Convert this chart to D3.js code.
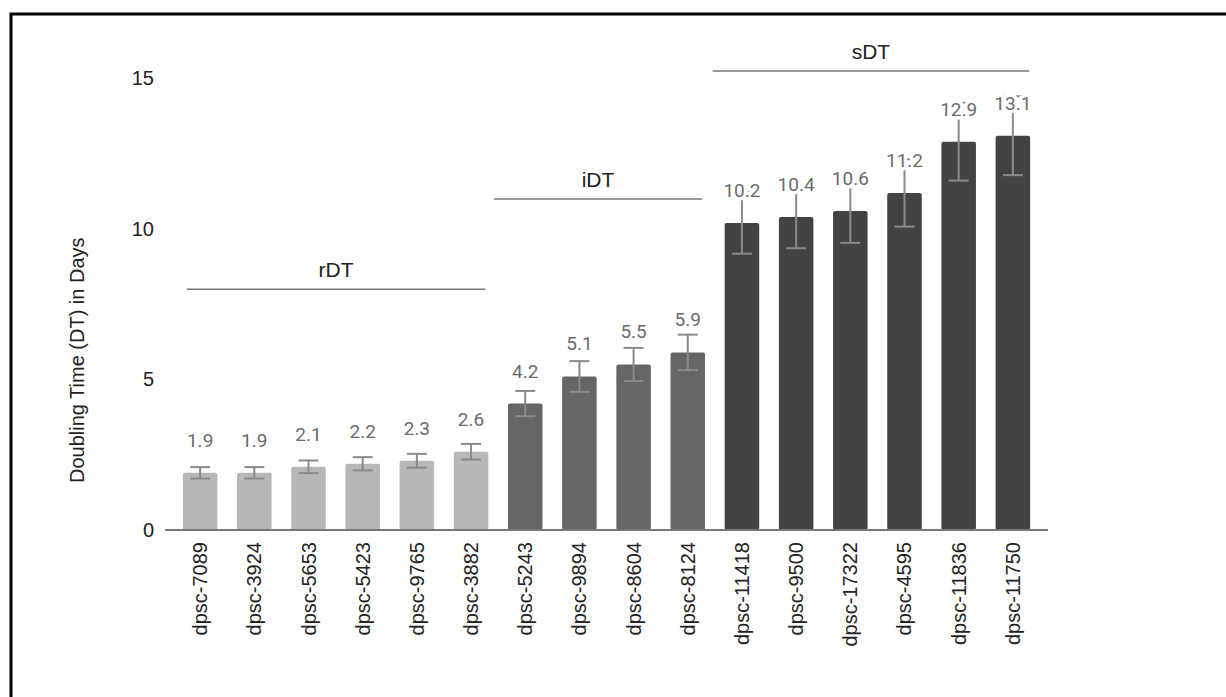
<!DOCTYPE html>
<html>
<head>
<meta charset="utf-8">
<script src="https://cdn.jsdelivr.net/npm/d3@7"></script>
<style>
  html, body { margin: 0; padding: 0; background: #fff; }
  svg { display: block; }
</style>
</head>
<body>
<svg id="chart" width="1226" height="697"></svg>
<script>
// ---- data ----
const categories = ["dpsc-7089","dpsc-3924","dpsc-5653","dpsc-5423","dpsc-9765","dpsc-3882",
  "dpsc-5243","dpsc-9894","dpsc-8604","dpsc-8124",
  "dpsc-11418","dpsc-9500","dpsc-17322","dpsc-4595","dpsc-11836","dpsc-11750"];
const values = [1.9,1.9,2.1,2.2,2.3,2.6,4.2,5.1,5.5,5.9,10.2,10.4,10.6,11.2,12.9,13.1];
const errors = [0.19,0.19,0.21,0.22,0.23,0.26,0.42,0.51,0.55,0.59,1.02,1.04,1.06,1.12,1.29,1.31];
const groupOf = ["rDT","rDT","rDT","rDT","rDT","rDT","iDT","iDT","iDT","iDT","sDT","sDT","sDT","sDT","sDT","sDT"];
const groupNames = ["rDT","iDT","sDT"];
const groupFirst = ["dpsc-7089","dpsc-5243","dpsc-11418"];
const groupLast = ["dpsc-3882","dpsc-8124","dpsc-11750"];
const groupLevel = [8, 11, 15.25];
const yTicks = [0,5,10,15];
const yTitle = "Doubling Time (DT) in Days";

// ---- layout / style (not data) ----
const groupColor = {rDT: "#b7b7b7", iDT: "#666666", sDT: "#434343"};
const lineStartShift = [4, -14, -12];
const lineEndShift = [-3, -3, -1];

const svg = d3.select("#chart");

// frame
svg.append("rect").attr("x", 11).attr("y", 14).attr("width", 1240).attr("height", 720)
  .attr("fill", "none").attr("stroke", "#000").attr("stroke-width", 3);

const x = d3.scaleBand().domain(categories).range([165, 1048])
  .paddingInner(0.363).paddingOuter(0.33);
const y = d3.scaleLinear().domain([0, 15]).range([530, 78.5]);

// bars
svg.append("g").selectAll("rect").data(categories).join("rect")
  .attr("x", d => x(d))
  .attr("y", (d, i) => y(values[i]))
  .attr("width", x.bandwidth())
  .attr("height", (d, i) => y(0) - y(values[i]))
  .attr("rx", 2)
  .attr("fill", (d, i) => groupColor[groupOf[i]]);

// baseline
svg.append("line").attr("x1", 165).attr("x2", 1048).attr("y1", y(0)).attr("y2", y(0))
  .attr("stroke", "#777").attr("stroke-width", 2);

// error bars
const eb = svg.append("g").attr("stroke", "#8a8a8a").attr("stroke-width", 2);
categories.forEach((c, i) => {
  const cx = x(c) + x.bandwidth() / 2;
  const hi = y(values[i] + errors[i]), lo = y(values[i] - errors[i]);
  eb.append("line").attr("x1", cx).attr("x2", cx).attr("y1", hi).attr("y2", lo);
  eb.append("line").attr("x1", cx - 10).attr("x2", cx + 10).attr("y1", hi).attr("y2", hi);
  eb.append("line").attr("x1", cx - 10).attr("x2", cx + 10).attr("y1", lo).attr("y2", lo);
});

// value labels
svg.append("g").selectAll("text").data(categories).join("text")
  .attr("x", d => x(d) + x.bandwidth() / 2)
  .attr("y", (d, i) => y(values[i]) - 26)
  .attr("text-anchor", "middle")
  .attr("font-family", "Roboto, sans-serif")
  .attr("font-size", 19)
  .attr("fill", "#6b6b6b")
  .attr("stroke", "#fff").attr("stroke-width", 7).attr("stroke-linejoin", "round")
  .attr("paint-order", "stroke")
  .text((d, i) => d3.format(".1f")(values[i]));

// y axis
const yAxis = d3.axisLeft(y).tickValues(yTicks).tickSize(0).tickPadding(0);
const ya = svg.append("g").attr("transform", "translate(154,0)").call(yAxis);
ya.select(".domain").remove();
ya.selectAll("text").attr("font-family", "'Liberation Sans', Arial, sans-serif")
  .attr("font-size", 20).attr("fill", "#222");

// x axis labels
const xAxis = d3.axisBottom(x).tickSize(0).tickPadding(0);
const xa = svg.append("g").attr("transform", `translate(0,${y(0)})`).call(xAxis);
xa.select(".domain").remove();
xa.selectAll("text")
  .attr("font-family", "'Liberation Sans', Arial, sans-serif")
  .attr("font-size", 20).attr("fill", "#222")
  .attr("transform", "rotate(-90)")
  .attr("x", -12).attr("y", 0).attr("dy", "0.35em")
  .attr("text-anchor", "end");

// y title
svg.append("text")
  .attr("transform", `translate(84,${(y(0) + y(15)) / 2 + 56}) rotate(-90)`)
  .attr("text-anchor", "middle")
  .attr("font-family", "'Liberation Sans', Arial, sans-serif")
  .attr("font-size", 20).attr("fill", "#222")
  .text(yTitle);

// group annotations
groupNames.forEach((g, k) => {
  const x1 = x(groupFirst[k]) + lineStartShift[k];
  const x2 = x(groupLast[k]) + x.bandwidth() + lineEndShift[k];
  const ly = y(groupLevel[k]);
  svg.append("line").attr("x1", x1).attr("x2", x2).attr("y1", ly).attr("y2", ly)
    .attr("stroke", "#777").attr("stroke-width", 1.5);
  svg.append("text").attr("x", (x1 + x2) / 2).attr("y", ly - 12)
    .attr("text-anchor", "middle")
    .attr("font-family", "'Liberation Sans', Arial, sans-serif")
    .attr("font-size", 21).attr("fill", "#222")
    .text(g);
});
</script>
</body>
</html>
